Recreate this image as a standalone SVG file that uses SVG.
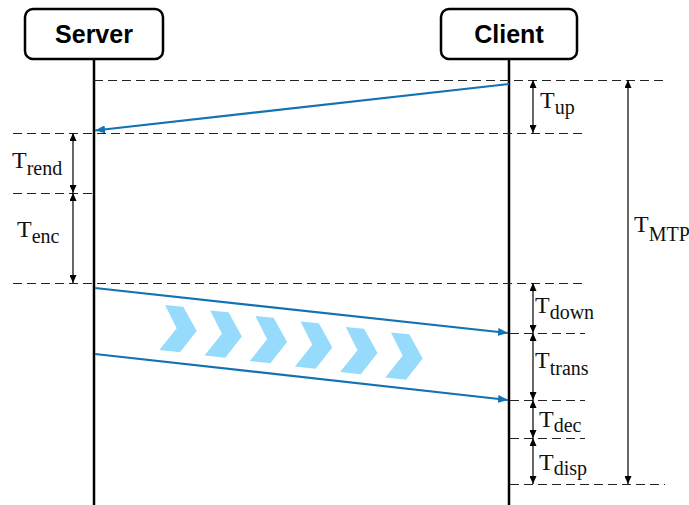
<svg xmlns="http://www.w3.org/2000/svg" width="689" height="505" viewBox="0 0 689 505">
<defs>
<style>
.box{fill:#fff;stroke:#000;stroke-width:2.5}
.title{font-family:"Liberation Sans",Arial,sans-serif;font-weight:bold;font-size:25px;fill:#000;text-anchor:middle}
.life{stroke:#000;stroke-width:2.5}
.dash{stroke:#222;stroke-width:1;stroke-dasharray:9,5;fill:none;shape-rendering:crispEdges}
.dim{stroke:#000;stroke-width:1.2;fill:none;marker-start:url(#tri);marker-end:url(#tri)}
.msg{stroke:#1272B2;stroke-width:2.2;fill:none;marker-end:url(#blue)}
.lbl{font-family:"Liberation Serif","Times New Roman",serif;font-size:24px;fill:#111}
.sub{font-size:20px}
.chev{fill:#97DBFC}
</style>
<marker id="tri" viewBox="0 0 8 7" refX="8" refY="3.5" markerWidth="8" markerHeight="7" markerUnits="userSpaceOnUse" orient="auto-start-reverse">
<path d="M0,0 L8,3.5 L0,7 z" fill="#000"/>
</marker>
<marker id="blue" viewBox="0 0 10 8" refX="10" refY="4" markerWidth="10" markerHeight="8" markerUnits="userSpaceOnUse" orient="auto">
<path d="M0,0 L10,4 L0,8 z" fill="#1272B2"/>
</marker>
<polygon id="chevron" points="165,305 183.3,306.7 196.7,331 180,352.3 159.3,350 176.7,328.3"/>
</defs>
<rect width="689" height="505" fill="#fff"/>

<g id="server">
<line class="life" x1="94" y1="59" x2="94" y2="505"/>
<rect class="box" x="25" y="9" width="138" height="50" rx="8"/>
<text class="title" x="94" y="43">Server</text>
</g>
<g id="client">
<line class="life" x1="509" y1="59" x2="509" y2="505"/>
<rect class="box" x="441" y="9" width="136" height="50" rx="8"/>
<text class="title" x="509" y="43">Client</text>
</g>

<g id="timelines">
<line class="dash" x1="94" y1="80.5" x2="663" y2="80.5"/>
<line class="dash" x1="13" y1="133.5" x2="583" y2="133.5"/>
<line class="dash" x1="13" y1="193.5" x2="94" y2="193.5"/>
<line class="dash" x1="13" y1="283.5" x2="583" y2="283.5"/>
<line class="dash" x1="510" y1="333.5" x2="585" y2="333.5"/>
<line class="dash" x1="510" y1="400.5" x2="585" y2="400.5"/>
<line class="dash" x1="510" y1="438.5" x2="585" y2="438.5"/>
<line class="dash" x1="510" y1="484.5" x2="665" y2="484.5"/>
</g>

<g id="chevrons" class="chev">
<use href="#chevron"/>
<use href="#chevron" transform="translate(45.2,5.5)"/>
<use href="#chevron" transform="translate(90.4,11)"/>
<use href="#chevron" transform="translate(135.6,16.5)"/>
<use href="#chevron" transform="translate(180.8,22)"/>
<use href="#chevron" transform="translate(226,27.5)"/>
</g>

<g id="connectors">
<line class="msg" x1="509" y1="84" x2="95" y2="130.5"/>
<line class="msg" x1="95" y1="288" x2="508" y2="333"/>
<line class="msg" x1="95" y1="354" x2="508" y2="400"/>
</g>

<g id="dimensions">
<line class="dim" x1="533" y1="80" x2="533" y2="133"/>
<line class="dim" x1="73" y1="133" x2="73" y2="193"/>
<line class="dim" x1="73" y1="193" x2="73" y2="283"/>
<line class="dim" x1="628" y1="80" x2="628" y2="484"/>
<line class="dim" x1="533" y1="283" x2="533" y2="333"/>
<line class="dim" x1="533" y1="333" x2="533" y2="400"/>
<line class="dim" x1="533" y1="400" x2="533" y2="438"/>
<line class="dim" x1="533" y1="438" x2="533" y2="484"/>
</g>

<g id="labels">
<text class="lbl" x="540" y="108">T<tspan class="sub" dy="6">up</tspan></text>
<text class="lbl" x="12" y="168">T<tspan class="sub" dy="7">rend</tspan></text>
<text class="lbl" x="17" y="237">T<tspan class="sub" dy="6">enc</tspan></text>
<text class="lbl" x="634" y="232">T<tspan class="sub" dy="9" font-size="18">MTP</tspan></text>
<text class="lbl" x="535" y="313">T<tspan class="sub" dy="6">down</tspan></text>
<text class="lbl" x="535" y="368">T<tspan class="sub" dy="7">trans</tspan></text>
<text class="lbl" x="539" y="427">T<tspan class="sub" dy="5">dec</tspan></text>
<text class="lbl" x="539" y="470">T<tspan class="sub" dy="5">disp</tspan></text>
</g>
</svg>
